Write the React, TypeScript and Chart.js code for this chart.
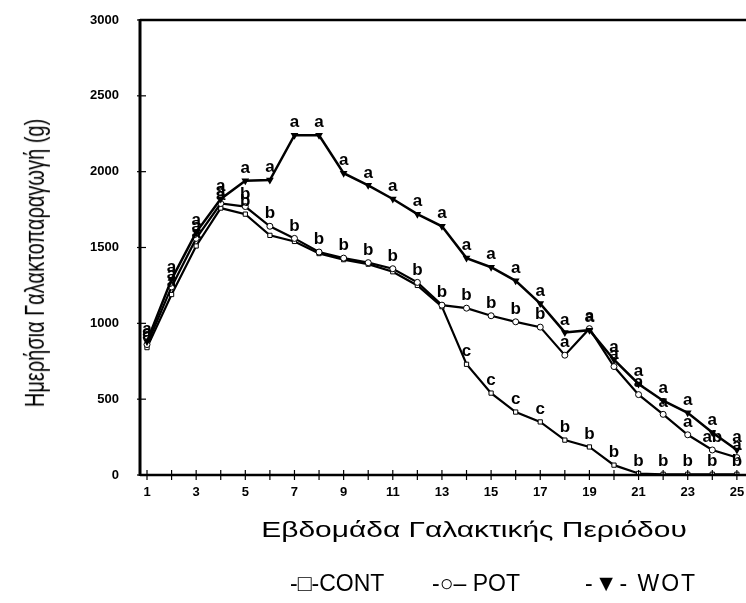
import React, { useEffect, useRef } from "react";
import { Chart, registerables } from "chart.js";
Chart.register(...registerables);

const weeks = [1, 2, 3, 4, 5, 6, 7, 8, 9, 10, 11, 12, 13, 14, 15, 16, 17, 18, 19, 20, 21, 22, 23, 24, 25];
const wotValues = [880, 1290, 1600, 1820, 1940, 1945, 2240, 2240, 1990, 1910, 1820, 1720, 1640, 1430, 1370, 1280, 1130, 940, 955, 760, 600, 490, 410, 280, 165];
const potValues = [860, 1240, 1560, 1790, 1770, 1640, 1560, 1470, 1430, 1400, 1360, 1270, 1120, 1100, 1050, 1010, 975, 790, 965, 715, 530, 400, 265, 165, 115];
const contValues = [840, 1190, 1510, 1760, 1720, 1580, 1540, 1460, 1420, 1390, 1340, 1250, 1110, 730, 540, 415, 350, 230, 185, 65, 10, 5, 5, 5, 5];

const wotLetters = ["a", "a", "a", "a", "a", "a", "a", "a", "a", "a", "a", "a", "a", "a", "a", "a", "a", "a", "a", "a", "a", "a", "a", "a", "a"];
const potLetters = ["a", "a", "a", "a", "b", "b", "b", "b", "b", "b", "b", "b", "b", "b", "b", "b", "b", "a", "a", "a", "a", "a", "a", "ab", "a"];
const contLetters = ["a", "a", "a", "a", "b", "", "", "", "", "", "", "", "", "c", "c", "c", "c", "b", "b", "b", "b", "b", "b", "b", "b"];

const xTickLabels = ["1", "3", "5", "7", "9", "11", "13", "15", "17", "19", "21", "23", "25"];
const yTicks = [0, 500, 1000, 1500, 2000, 2500, 3000];

const FONT = "'Liberation Sans', Arial, sans-serif";

const framePlugin = {
  id: "frame",
  afterDatasetsDraw(chart: any) {
    const { ctx, chartArea, scales } = chart;
    ctx.save();
    ctx.strokeStyle = "#000";
    ctx.lineWidth = 2.5;
    ctx.beginPath();
    ctx.moveTo(chartArea.left, chartArea.top);
    ctx.lineTo(chartArea.right, chartArea.top);
    ctx.stroke();
    ctx.lineWidth = 3;
    ctx.beginPath();
    ctx.moveTo(chartArea.left, chartArea.top - 1);
    ctx.lineTo(chartArea.left, chartArea.bottom + 1);
    ctx.stroke();
    ctx.lineWidth = 2.5;
    ctx.beginPath();
    ctx.moveTo(chartArea.left, chartArea.bottom);
    ctx.lineTo(chartArea.right, chartArea.bottom);
    ctx.stroke();
    ctx.lineWidth = 1.2;
    weeks.forEach((w) => {
      const x = scales.x.getPixelForValue(w);
      ctx.beginPath();
      ctx.moveTo(x, chartArea.bottom - 5);
      ctx.lineTo(x, chartArea.bottom + 5);
      ctx.stroke();
    });
    yTicks.forEach((v) => {
      const y = scales.y.getPixelForValue(v);
      ctx.beginPath();
      ctx.moveTo(chartArea.left - 3, y);
      ctx.lineTo(chartArea.left + 6, y);
      ctx.stroke();
    });
    ctx.fillStyle = "#000";
    ctx.font = `bold 17px ${FONT}`;
    ctx.textAlign = "center";
    ctx.textBaseline = "bottom";
    const sets = [wotLetters, potLetters, contLetters];
    chart.data.datasets.forEach((ds: any, di: number) => {
      const meta = chart.getDatasetMeta(di);
      meta.data.forEach((pt: any, i: number) => {
        const t = sets[di][i];
        if (!t) return;
        ctx.fillText(t, pt.x, pt.y - 4);
      });
    });
    ctx.restore();
  },
};

export default function App() {
  const ref = useRef<HTMLCanvasElement | null>(null);
  useEffect(() => {
    if (!ref.current) return;
    const chart = new Chart(ref.current, {
      type: "line",
      data: {
        datasets: [
          {
            label: "WOT",
            data: weeks.map((w, i) => ({ x: w, y: wotValues[i] })),
            borderColor: "#000",
            borderWidth: 2.5,
            pointStyle: "triangle",
            rotation: 180,
            pointRadius: 2,
            pointBackgroundColor: "#000",
            pointBorderColor: "#000",
            tension: 0,
          },
          {
            label: "POT",
            data: weeks.map((w, i) => ({ x: w, y: potValues[i] })),
            borderColor: "#000",
            borderWidth: 2.2,
            pointStyle: "circle",
            pointRadius: 3,
            pointBackgroundColor: "#fff",
            pointBorderColor: "#000",
            pointBorderWidth: 1,
            tension: 0,
          },
          {
            label: "CONT",
            data: weeks.map((w, i) => ({ x: w, y: contValues[i] })),
            borderColor: "#000",
            borderWidth: 2.2,
            pointStyle: "rect",
            pointRadius: 3,
            pointBackgroundColor: "#fff",
            pointBorderColor: "#000",
            pointBorderWidth: 1,
            tension: 0,
          },
        ],
      },
      options: {
        responsive: false,
        animation: false,
        layout: { padding: { top: 20, left: 0, right: 0, bottom: 0 } },
        plugins: { legend: { display: false }, tooltip: { enabled: false } },
        scales: {
          x: {
            type: "linear",
            min: 0.715,
            max: 26.49,
            grid: { display: false },
            border: { display: false },
            afterFit: (s: any) => {
              s.height = 128;
              s.paddingLeft = 0;
              s.paddingRight = 0;
            },
            afterBuildTicks: (s: any) => {
              s.ticks = xTickLabels.map((t) => ({ value: Number(t) }));
            },
            ticks: {
              autoSkip: false,
              maxRotation: 0,
              padding: 2,
              color: "#000",
              font: { family: FONT, size: 13, weight: "bold" },
              callback: (v: any) => String(v),
            },
          },
          y: {
            min: 0,
            max: 3000,
            grid: { display: false },
            border: { display: false },
            afterFit: (s: any) => {
              s.width = 140;
              s.paddingTop = 0;
              s.paddingBottom = 0;
            },
            afterBuildTicks: (s: any) => {
              s.ticks = yTicks.map((v) => ({ value: v }));
            },
            ticks: {
              padding: 13,
              color: "#000",
              font: { family: FONT, size: 13, weight: "bold" },
              callback: (v: any) => String(v),
            },
          },
        },
      },
      plugins: [framePlugin],
    });
    return () => chart.destroy();
  }, []);

  const legendStyle: React.CSSProperties = {
    position: "absolute",
    top: 583,
    transform: "translateY(-50%)",
    whiteSpace: "pre",
    fontSize: 23,
  };

  return (
    <div
      style={{
        position: "fixed",
        left: 0,
        top: 0,
        width: 746,
        height: 603,
        overflow: "hidden",
        background: "#fff",
        fontFamily: FONT,
        color: "#000",
      }}
    >
      <canvas ref={ref} width={780} height={603} style={{ position: "absolute", left: 0, top: 0, width: 780, height: 603 }} />
      <div
        style={{
          position: "absolute",
          left: 35,
          top: 263,
          transform: "translate(-50%, -50%) rotate(-90deg) scaleY(1.4)",
          whiteSpace: "nowrap",
          fontSize: 20,
        }}
      >
        Ημερήσια Γαλακτοπαραγωγή (g)
      </div>
      <div
        style={{
          position: "absolute",
          left: 474,
          top: 530,
          transform: "translate(-50%, -50%) scaleX(1.36)",
          whiteSpace: "nowrap",
          fontSize: 22,
        }}
      >
        Εβδομάδα Γαλακτικής Περιόδου
      </div>
      <div style={{ ...legendStyle, left: 290 }}>{"-□-CONT"}</div>
      <div style={{ ...legendStyle, left: 432 }}>{"-○– POT"}</div>
      <div style={{ ...legendStyle, left: 585, letterSpacing: 2 }}>{"-▼- WOT"}</div>
    </div>
  );
}
